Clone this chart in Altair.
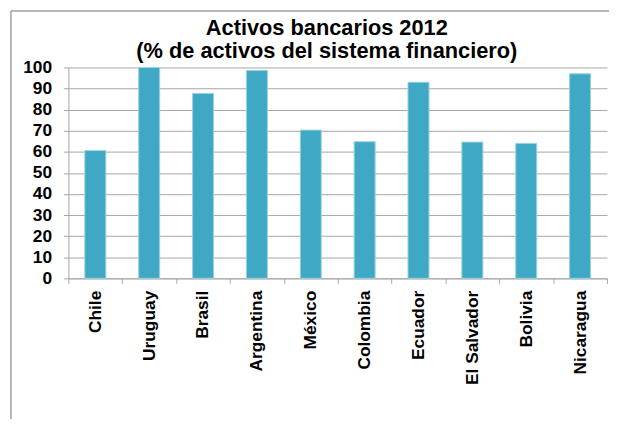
import altair as alt
import pandas as pd

paises = ["Chile", "Uruguay", "Brasil", "Argentina", "México", "Colombia",
          "Ecuador", "El Salvador", "Bolivia", "Nicaragua"]
valores = [60.6, 100.0, 87.7, 98.6, 70.3, 64.8, 93.0, 64.6, 64.0, 97.0]
y_ticks = list(range(0, 101, 10))
titulo = ["Activos bancarios 2012", "(% de activos del sistema financiero)"]

df = pd.DataFrame({"pais": paises, "valor": valores})

W, H = 544, 213
FONT = "Liberation Sans"
GRAY = "#A6A6A6"

bars = alt.Chart(df).mark_bar(
    color="#3FA9C5", stroke="#9ED1DF", strokeWidth=1,
    width=alt.RelativeBandSize(0.39)
).encode(
    x=alt.X("pais:N", sort=paises, title=None,
            scale=alt.Scale(paddingInner=0, paddingOuter=0),
            axis=alt.Axis(labelAngle=-90, tickBand="extent", tickSize=5,
                          labelPadding=7, labelFontSize=17.5, labelFontWeight="bold",
                          labelFont=FONT, labelColor="black", domainColor=GRAY,
                          tickColor=GRAY, grid=False, labelLimit=300)),
    y=alt.Y("valor:Q", title=None,
            scale=alt.Scale(domain=[0, 100], nice=False, zero=True),
            axis=alt.Axis(values=y_ticks, tickSize=5, labelPadding=12,
                          labelFontSize=17.5, labelFontWeight="bold", labelFont=FONT,
                          labelColor="black", domainColor=GRAY, tickColor=GRAY,
                          gridColor=GRAY, gridWidth=1, grid=True)),
)

frame_left = alt.Chart(alt.Data(values=[{}])).mark_rule(
    stroke="#A0A0A0", strokeWidth=1.5
).encode(
    x=alt.value(-58), y=alt.value(-57), y2=alt.value(H + 200),
)
frame_top = alt.Chart(alt.Data(values=[{}])).mark_rule(
    stroke="#A0A0A0", strokeWidth=1.5
).encode(
    x=alt.value(-58), x2=alt.value(W + 10), y=alt.value(-57),
)

title_mark = alt.Chart(alt.Data(values=[{}])).mark_text(
    font=FONT, fontSize=22, fontWeight="bold", color="black",
    align="center", baseline="alphabetic", lineHeight=23.5
).encode(
    x=alt.value(261), y=alt.value(-33),
    text=alt.value(titulo),
)

chart = alt.layer(frame_left, frame_top, bars, title_mark).properties(
    width=W, height=H,
    autosize=alt.AutoSizeParams(type="none"),
    padding={"left": 61, "top": 58, "right": 2, "bottom": 140},
).configure_view(stroke=None)

chart.save("out.html", embed_options={"renderer": "svg", "actions": False})
